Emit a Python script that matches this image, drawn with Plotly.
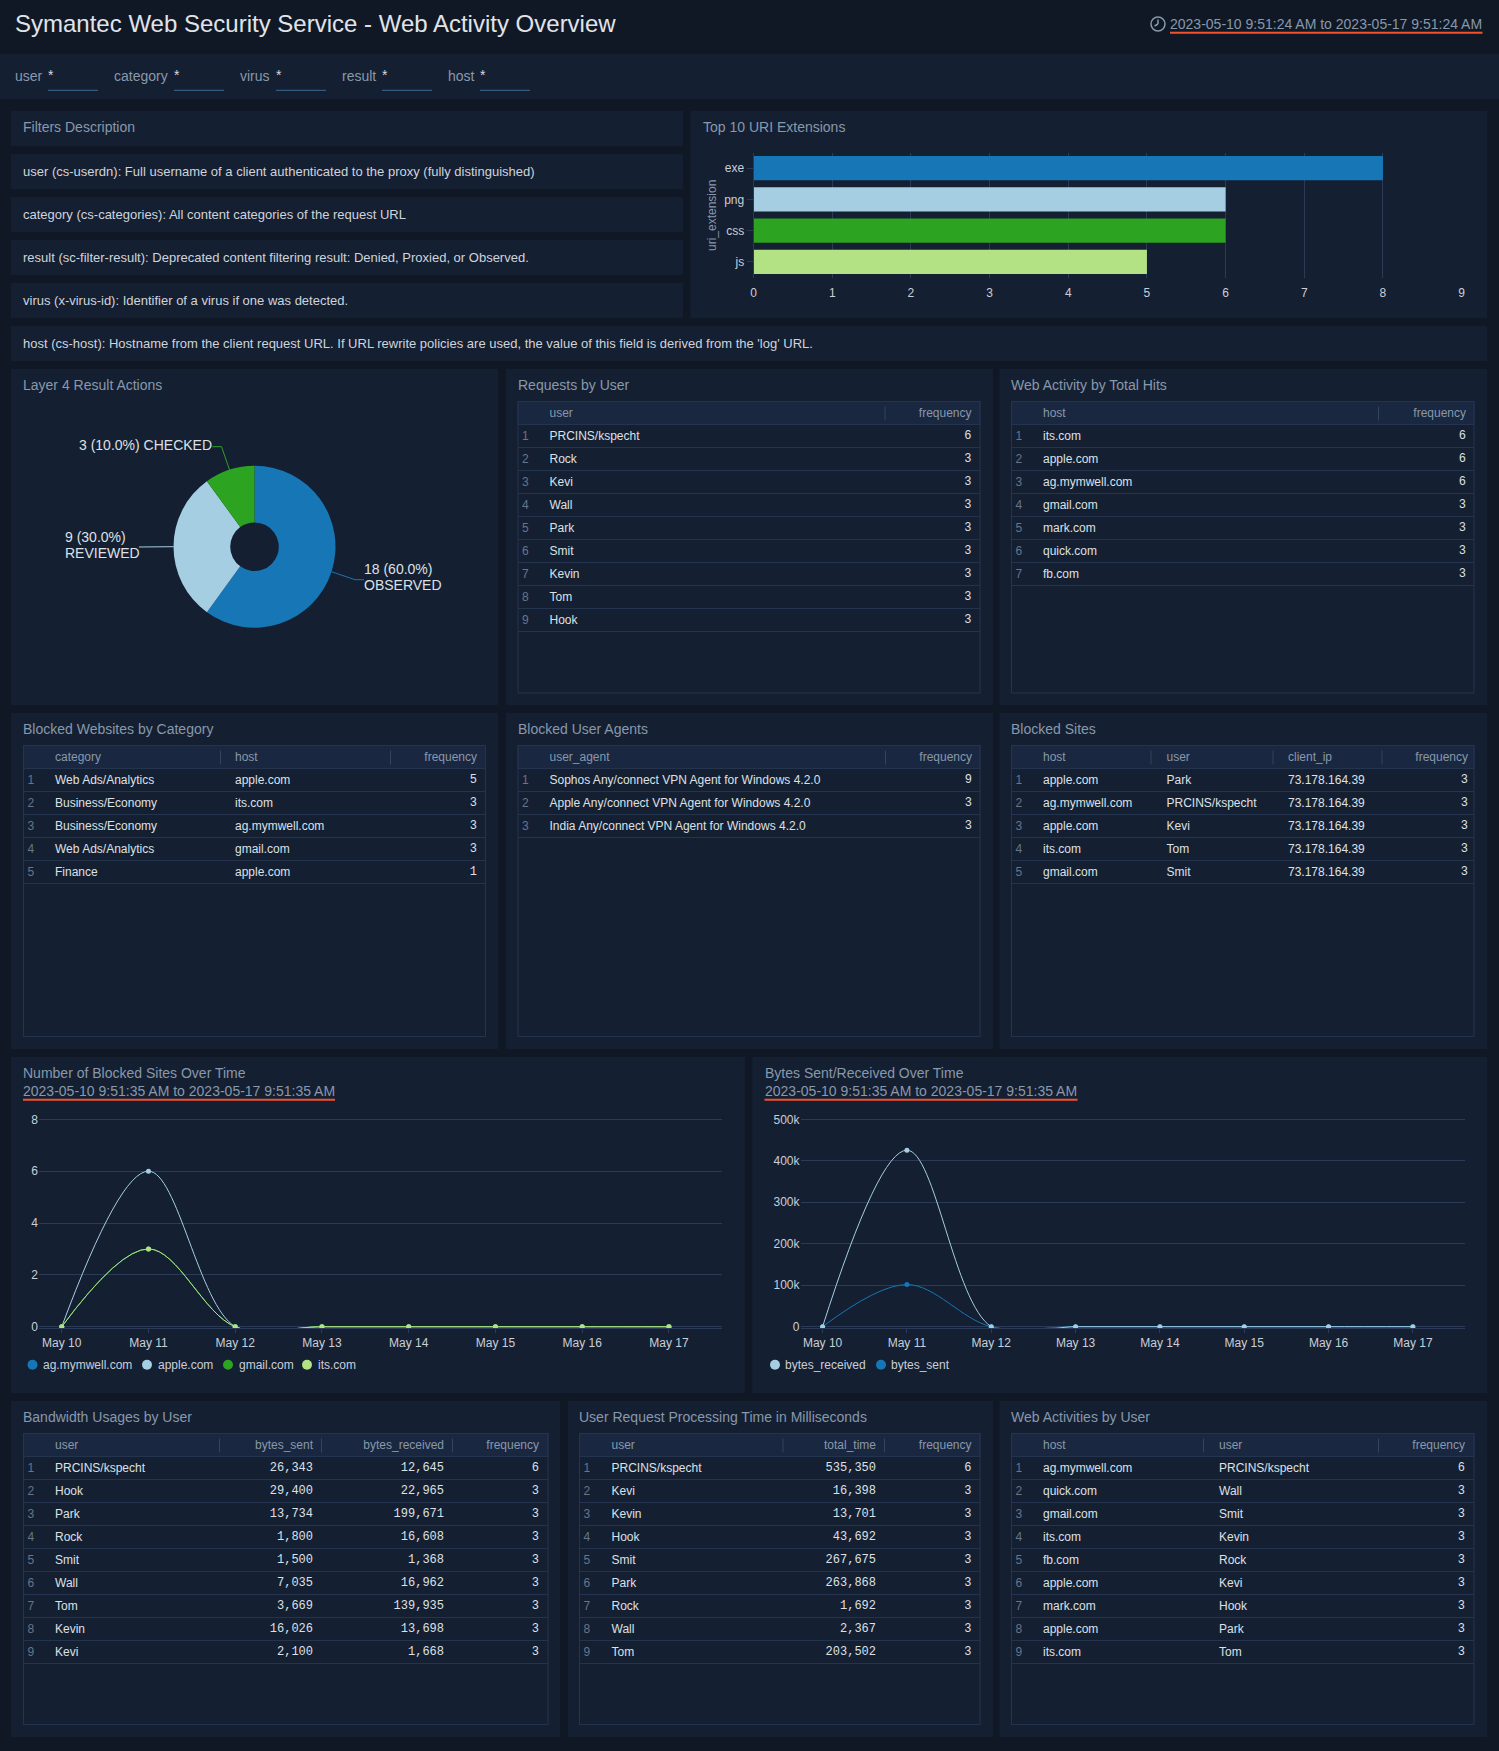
import math
import plotly.graph_objects as go

W, H = 1499, 1751
SANS = "Liberation Sans"
MONO = "Liberation Mono"

# colours
page_bg = "#101826"
panel_bg = "#151f32"
head_bg = "#1a2740"
rule = "#24344e"
grid = "#2b3b57"
title_col = "#8799ab"
cell_col = "#dde1e6"
dim_col = "#66768a"
tick_col = "#c9cfd8"
orange = "#f4512c"
palette = ["#1776b6", "#a6cee3", "#2ca321", "#b2e284"]

# data
filter_names = ["user", "category", "virus", "result", "host"]
filter_notes = [
    "user (cs-userdn): Full username of a client authenticated to the proxy (fully distinguished)",
    "category (cs-categories): All content categories of the request URL",
    "result (sc-filter-result): Deprecated content filtering result: Denied, Proxied, or Observed.",
    "virus (x-virus-id): Identifier of a virus if one was detected.",
    "host (cs-host): Hostname from the client request URL. If URL rewrite policies are used, the value of this field is derived from the 'log' URL.",
]

uri_ext = ["exe", "png", "css", "js"]
uri_counts = [8, 6, 6, 5]

result_names = ["OBSERVED", "REVIEWED", "CHECKED"]
result_counts = [18, 9, 3]

days = ["May 10", "May 11", "May 12", "May 13", "May 14", "May 15", "May 16", "May 17"]
blocked_ag = [0, 3, 0, 0, 0, 0, 0, 0]
blocked_apple = [0, 6, 0, 0, 0, 0, 0, 0]
blocked_gmail = [0, 3, 0, 0, 0, 0, 0, 0]
blocked_its = [0, 3, 0, 0, 0, 0, 0, 0]
bytes_sent_day = [0, 101607, 0, 0, 0, 0, 0, 0]
bytes_recv_day = [0, 425520, 0, 0, 0, 0, 0, 0]

req_users = ["PRCINS/kspecht", "Rock", "Kevi", "Wall", "Park", "Smit", "Kevin", "Tom", "Hook"]
req_freq = ["6", "3", "3", "3", "3", "3", "3", "3", "3"]

hit_hosts = ["its.com", "apple.com", "ag.mymwell.com", "gmail.com", "mark.com", "quick.com", "fb.com"]
hit_freq = ["6", "6", "6", "3", "3", "3", "3"]

cat_names = ["Web Ads/Analytics", "Business/Economy", "Business/Economy", "Web Ads/Analytics", "Finance"]
cat_hosts = ["apple.com", "its.com", "ag.mymwell.com", "gmail.com", "apple.com"]
cat_freq = ["5", "3", "3", "3", "1"]

agents = ["Sophos Any/connect VPN Agent for Windows 4.2.0",
          "Apple Any/connect VPN Agent for Windows 4.2.0",
          "India Any/connect VPN Agent for Windows 4.2.0"]
agent_freq = ["9", "3", "3"]

site_hosts = ["apple.com", "ag.mymwell.com", "apple.com", "its.com", "gmail.com"]
site_users = ["Park", "PRCINS/kspecht", "Kevi", "Tom", "Smit"]
site_ips = ["73.178.164.39"] * 5
site_freq = ["3", "3", "3", "3", "3"]

bw_users = ["PRCINS/kspecht", "Hook", "Park", "Rock", "Smit", "Wall", "Tom", "Kevin", "Kevi"]
bw_sent = ["26,343", "29,400", "13,734", "1,800", "1,500", "7,035", "3,669", "16,026", "2,100"]
bw_recv = ["12,645", "22,965", "199,671", "16,608", "1,368", "16,962", "139,935", "13,698", "1,668"]
bw_freq = ["6", "3", "3", "3", "3", "3", "3", "3", "3"]

time_users = ["PRCINS/kspecht", "Kevi", "Kevin", "Hook", "Smit", "Park", "Rock", "Wall", "Tom"]
time_total = ["535,350", "16,398", "13,701", "43,692", "267,675", "263,868", "1,692", "2,367", "203,502"]
time_freq = ["6", "3", "3", "3", "3", "3", "3", "3", "3"]

act_hosts = ["ag.mymwell.com", "quick.com", "gmail.com", "its.com", "fb.com", "apple.com", "mark.com", "apple.com", "its.com"]
act_users = ["PRCINS/kspecht", "Wall", "Smit", "Kevin", "Rock", "Kevi", "Hook", "Park", "Tom"]
act_freq = ["6", "3", "3", "3", "3", "3", "3", "3", "3"]

fig = go.Figure()
shapes = []
notes = []


def px(x):
    return x / W


def py(y):
    return 1 - y / H


def rect(x0, y0, x1, y1, fill, line=None):
    shapes.append(dict(type="rect", xref="paper", yref="paper", layer="below",
                       x0=px(x0), x1=px(x1), y0=py(y0), y1=py(y1), fillcolor=fill,
                       line=dict(color=line or fill, width=1 if line else 0)))


def seg(x0, y0, x1, y1, color, width=1):
    shapes.append(dict(type="line", xref="paper", yref="paper", layer="below",
                       x0=px(x0), x1=px(x1), y0=py(y0), y1=py(y1),
                       line=dict(color=color, width=width)))


def note(text, x, y, size=14, color=title_col, anchor="left", angle=0):
    notes.append(dict(text=text, x=px(x), y=py(y), xref="paper", yref="paper", showarrow=False,
                      xanchor=anchor, yanchor="middle", textangle=angle, borderpad=0, borderwidth=0,
                      font=dict(family=SANS, size=size, color=color)))


axis_no = [0]


def next_axes():
    axis_no[0] += 1
    return axis_no[0]


def add_table(title, x0, y0, x1, y1, idx_x, cols):
    """cols: (header, values, text x, separator x, align, mono)"""
    note(title, x0 - 0.5, y0 - 16.7)
    rect(x0, y0, x1, y1, panel_bg, rule)
    rect(x0, y0, x1, y0 + 23, head_bg, rule)
    n = next_axes()
    count = len(cols[0][1])
    head_end = y0 + 23.3
    rows = list(range(1, count + 1))
    # sans cells sit a little lower in their row than the mono numbers
    sans_rows = [r + 0.04 for r in rows]
    fig.update_layout({
        "xaxis%d" % n: dict(domain=[px(x0), px(x1)], range=[x0, x1], anchor="y%d" % n,
                            showgrid=False, zeroline=False, showticklabels=False, ticks=""),
        "yaxis%d" % n: dict(domain=[py(y1), py(y0)], anchor="x%d" % n,
                            range=[(y1 - head_end) / 23 + 0.5, (y0 - head_end) / 23 + 0.5],
                            tickvals=[r + 0.5 for r in range(count + 1)], showgrid=True,
                            gridcolor=rule, gridwidth=1, zeroline=False, showticklabels=False, ticks=""),
    })
    fig.add_trace(go.Scatter(x=[idx_x] * count, y=sans_rows, text=[str(r) for r in rows], mode="text",
                             textposition="middle right", xaxis="x%d" % n, yaxis="y%d" % n,
                             textfont=dict(family=SANS, size=12, color=dim_col),
                             hoverinfo="skip", showlegend=False, cliponaxis=False))
    for name, values, text_x, sep_x, align, mono in cols:
        pos = "middle right" if align == "left" else "middle left"
        fig.add_trace(go.Scatter(x=[text_x] * count, y=rows if mono else sans_rows, text=values, mode="text",
                                 textposition=pos, xaxis="x%d" % n, yaxis="y%d" % n,
                                 textfont=dict(family=MONO if mono else SANS, size=12, color=cell_col),
                                 hoverinfo="skip", showlegend=False, cliponaxis=False))
        fig.add_trace(go.Scatter(x=[text_x], y=[0.03], text=[name], mode="text", textposition=pos,
                                 xaxis="x%d" % n, yaxis="y%d" % n,
                                 textfont=dict(family=SANS, size=12, color=title_col),
                                 hoverinfo="skip", showlegend=False, cliponaxis=False))
        if sep_x:
            seg(sep_x, y0 + 5, sep_x, y0 + 19, "#33445f")


# page frame
rect(0, 54, W, 99, panel_bg)
note("Symantec Web Security Service - Web Activity Overview", 15, 23.5, size=24, color="#e0e4ea")
note("2023-05-10 9:51:24 AM to 2023-05-17 9:51:24 AM", 1170, 24, color=title_col)
seg(1170, 32.7, 1482.5, 32.7, orange, 2)
shapes.append(dict(type="circle", xref="paper", yref="paper", layer="below", x0=px(1151), x1=px(1165),
                   y0=py(31), y1=py(17), line=dict(color=title_col, width=1.5)))
seg(1158, 24, 1158, 19.5, title_col, 1.5)
seg(1158, 24, 1154.5, 26, title_col, 1.5)

filter_x = [15, 114, 240, 341.5, 448]
input_x = [48, 174, 276, 382, 480]
for name, lx, ix in zip(filter_names, filter_x, input_x):
    note(name, lx, 76)
    note("*", ix, 75, color="#d5dae0")
    seg(ix, 90.3, ix + 50, 90.3, "#3b6a94")

rect(11, 111, 683, 146, panel_bg)
note("Filters Description", 23, 127)
note_y = [154, 197, 240, 283]
for text, y in zip(filter_notes[:4], note_y):
    rect(11, y, 683, y + 35, panel_bg)
    note(text, 23, y + 17.3, size=13, color="#cfd4db")
rect(11, 326, 1487, 361, panel_bg)
note(filter_notes[4], 23, 344, size=13, color="#cfd4db")

# panels
for box in [(690.5, 111, 1487, 318),
            (11, 369, 498, 705), (506, 369, 993, 705), (999.5, 369, 1487, 705),
            (11, 713, 498, 1049), (506, 713, 993, 1049), (999.5, 713, 1487, 1049),
            (11, 1057, 745, 1393), (752.5, 1057, 1487, 1393),
            (11, 1401, 560, 1737), (568, 1401, 993, 1737), (999.5, 1401, 1487, 1737)]:
    rect(*box, panel_bg)

# bar chart
note("Top 10 URI Extensions", 702.5, 127)
note("uri_extension", 712.5, 215.5, size=12, color=title_col, anchor="center", angle=-90)
n = next_axes()
fig.add_trace(go.Bar(x=uri_counts, y=uri_ext, orientation="h", xaxis="x%d" % n, yaxis="y%d" % n,
                     marker=dict(color=palette, line=dict(width=0)), showlegend=False, hoverinfo="skip"))
fig.update_layout({
    "xaxis%d" % n: dict(domain=[px(753.6), px(1461.6)], range=[0, 9], dtick=1, anchor="y%d" % n,
                        showgrid=True, gridcolor=grid, gridwidth=1, zeroline=False, ticks="outside",
                        ticklen=4, tickcolor=panel_bg, tickfont=dict(family=SANS, size=12, color=tick_col)),
    "yaxis%d" % n: dict(domain=[py(277.5), py(152.5)], range=[3.5, -0.5], anchor="x%d" % n, type="category",
                        showgrid=False, zeroline=False, ticks="outside", ticklen=6, tickcolor=grid,
                        showline=True, linecolor=grid,
                        tickfont=dict(family=SANS, size=12, color=tick_col)),
})

# donut
note("Layer 4 Result Actions", 23, 385)
cx, cy, radius = 254.5, 546.7, 81
fig.add_trace(go.Pie(labels=result_names, values=result_counts, hole=0.3, sort=False, direction="clockwise",
                     rotation=0, textinfo="none", showlegend=False, hoverinfo="skip",
                     marker=dict(colors=palette[:3], line=dict(width=0)),
                     domain=dict(x=[px(cx - radius), px(cx + radius)], y=[py(cy + radius), py(cy - radius)])))
total = sum(result_counts)
elbows = [(355, 579.7, 364), (139, 547, 139), (221.5, 446.7, 212.4)]
start = 0
for i, (name, count) in enumerate(zip(result_names, result_counts)):
    sweep = count / total * 360
    mid = math.radians(start + sweep / 2)
    start += sweep
    ex, ey = cx + radius * math.sin(mid), cy - radius * math.cos(mid)
    bx, by, tx = elbows[i]
    seg(ex, ey, bx, by, palette[i])
    seg(bx, by, tx, by, palette[i])
    label = "%d (%.1f%%)" % (count, count / total * 100)
    if i == 0:
        note(label, 364, 569, color=cell_col)
        note(name, 364, 585, color=cell_col)
    elif i == 1:
        note(label, 64.6, 537, color=cell_col)
        note(name, 64.6, 553, color=cell_col)
    else:
        note(label + " " + name, 211.5, 445, color=cell_col, anchor="right")


def add_lines(series, names, colors, left, right, top_val, tick_vals, tick_text):
    n = next_axes()
    unit = (1326.7 - 1119.3) / top_val
    for vals, name, color in zip(series, names, colors):
        fig.add_trace(go.Scatter(x=days, y=vals, name=name, mode="lines+markers", xaxis="x%d" % n, yaxis="y%d" % n,
                                 line=dict(color=color, width=1, shape="spline", smoothing=1.0),
                                 marker=dict(color=color, size=5), showlegend=False, hoverinfo="skip"))
    fig.update_layout({
        "xaxis%d" % n: dict(domain=[px(left), px(right)], range=[-0.262, 7.612], type="category", anchor="y%d" % n,
                            showgrid=False, zeroline=False, showline=True, linecolor=grid, ticks="outside",
                            ticklen=4, tickcolor=grid, tickfont=dict(family=SANS, size=12, color=tick_col)),
        "yaxis%d" % n: dict(domain=[py(1328), py(1115)], anchor="x%d" % n,
                            range=[(1326.7 - 1328) / unit, (1326.7 - 1115) / unit],
                            tickvals=tick_vals, ticktext=tick_text, showgrid=True, gridcolor=grid, gridwidth=1,
                            zeroline=False, ticks="", tickfont=dict(family=SANS, size=12, color=tick_col)),
    })


note("Number of Blocked Sites Over Time", 23, 1073)
note("2023-05-10 9:51:35 AM to 2023-05-17 9:51:35 AM", 23, 1091)
seg(23, 1099.7, 335, 1099.7, orange, 2)
blocked_names = ["ag.mymwell.com", "apple.com", "gmail.com", "its.com"]
add_lines([blocked_ag, blocked_apple, blocked_gmail, blocked_its], blocked_names, palette,
          39, 722, 8, [0, 2, 4, 6, 8], ["0", "2", "4", "6", "8"])

note("Bytes Sent/Received Over Time", 764.5, 1073)
note("2023-05-10 9:51:35 AM to 2023-05-17 9:51:35 AM", 764.5, 1091)
seg(764.5, 1099.7, 1077.5, 1099.7, orange, 2)
add_lines([bytes_sent_day, bytes_recv_day], ["bytes_sent", "bytes_received"], [palette[0], palette[1]],
          800.5, 1464.5, 500000, [0, 100000, 200000, 300000, 400000, 500000], ["0", "100k", "200k", "300k", "400k", "500k"])


def legend_row(names, colors, dot_x, gap, y=1364.7):
    for name, color, x in zip(names, colors, dot_x):
        shapes.append(dict(type="circle", xref="paper", yref="paper", layer="below", x0=px(x - 5), x1=px(x + 5),
                           y0=py(y + 5), y1=py(y - 5), fillcolor=color, line=dict(width=0)))
        note(name, x + gap, y + 0.5, size=12, color=tick_col)


legend_row(blocked_names, palette, [32.5, 147, 228, 307], 10.5)
legend_row(["bytes_received", "bytes_sent"], [palette[1], palette[0]], [775, 881], 9.5)

# tables
add_table("Requests by User", 518, 401.5, 980, 693, 522,
          [("user", req_users, 549.5, None, "left", False),
           ("frequency", req_freq, 971.5, 885, "right", True)])
add_table("Web Activity by Total Hits", 1011.5, 401.5, 1474, 693, 1015.5,
          [("host", hit_hosts, 1043, None, "left", False),
           ("frequency", hit_freq, 1466, 1378.5, "right", True)])
add_table("Blocked Websites by Category", 23.5, 745.5, 485.5, 1036.5, 27.5,
          [("category", cat_names, 55, None, "left", False),
           ("host", cat_hosts, 235, 220.5, "left", False),
           ("frequency", cat_freq, 477, 390.5, "right", True)])
add_table("Blocked User Agents", 518, 745.5, 980, 1036.5, 522,
          [("user_agent", agents, 549.5, None, "left", False),
           ("frequency", agent_freq, 972, 885.5, "right", True)])
add_table("Blocked Sites", 1011.5, 745.5, 1474, 1036.5, 1015.5,
          [("host", site_hosts, 1043, None, "left", False),
           ("user", site_users, 1166.5, 1151, "left", False),
           ("client_ip", site_ips, 1288, 1273, "left", False),
           ("frequency", site_freq, 1468, 1382, "right", True)])
add_table("Bandwidth Usages by User", 23.5, 1433.5, 548, 1724.5, 27.5,
          [("user", bw_users, 55, None, "left", False),
           ("bytes_sent", bw_sent, 313, 219.5, "right", True),
           ("bytes_received", bw_recv, 444, 321.5, "right", True),
           ("frequency", bw_freq, 539, 452.5, "right", True)])
add_table("User Request Processing Time in Milliseconds", 579.5, 1433.5, 980, 1724.5, 583.5,
          [("user", time_users, 611.5, None, "left", False),
           ("total_time", time_total, 876, 783, "right", True),
           ("frequency", time_freq, 971.5, 884.5, "right", True)])
add_table("Web Activities by User", 1011.5, 1433.5, 1474, 1724.5, 1015.5,
          [("host", act_hosts, 1043, None, "left", False),
           ("user", act_users, 1219, 1203.5, "left", False),
           ("frequency", act_freq, 1465, 1378.5, "right", True)])

fig.update_layout(width=W, height=H, margin=dict(l=0, r=0, t=0, b=0, autoexpand=False), paper_bgcolor=page_bg,
                  plot_bgcolor="rgba(0,0,0,0)", bargap=0.226, shapes=shapes, annotations=notes,
                  font=dict(family=SANS, size=12, color=tick_col), showlegend=False)

fig.write_html("out.html", config={"displayModeBar": False},
               post_script="document.body.style.margin='0';document.body.style.background='%s';" % page_bg)
